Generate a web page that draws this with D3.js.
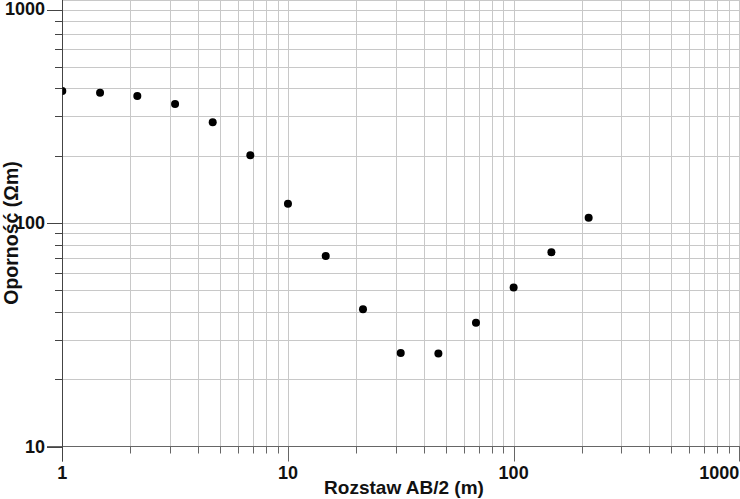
<!DOCTYPE html>
<html><head><meta charset="utf-8">
<script src="https://cdn.jsdelivr.net/npm/d3@7/dist/d3.min.js"></script>
<style>html,body{margin:0;padding:0;background:#fff;}svg{display:block;font-family:"Liberation Sans",Arial,sans-serif;font-weight:bold;}</style>
</head><body>
<script>
const spacing = [1, 1.47, 2.15, 3.16, 4.64, 6.81, 10, 14.7, 21.5, 31.6, 46.4, 68.1, 100, 147, 215];
const resistivity = [390, 383, 370, 341, 282, 201, 122, 71.2, 41.1, 26.2, 26.1, 35.8, 51.5, 73.9, 105.6];
const xTickLabels = ["1", "10", "100", "1000"];
const yTickLabels = ["10", "100", "1000"];
const xTitle = "Rozstaw AB/2 (m)";
const yTitle = "Oporność (Ωm)";

(function () {
const W = 740, H = 499;
const pLeft = 62.3, pRight = 739.3, pBottom = 446.5;
const svg = d3.select("body").append("svg").attr("width", W).attr("height", H);

const x = d3.scaleLog().domain([1, 1000]).range([pLeft, pRight]);
const y = d3.scaleLog().domain([10, 1000]).range([pBottom, -0.5]);

const xt = x.ticks();
const yt = y.ticks();
const isMajor = v => Math.abs(Math.log10(v) - Math.round(Math.log10(v))) < 1e-9;

const grid = svg.append("g").attr("stroke", "#c8c8c8").attr("stroke-width", 1);
grid.selectAll(".vx").data(xt.filter(v => v > 1)).join("line")
  .attr("x1", d => Math.round(x(d)) + 0.5).attr("x2", d => Math.round(x(d)) + 0.5)
  .attr("y1", 0).attr("y2", pBottom);
grid.selectAll(".hy").data(yt.filter(v => v > 10 && v < 1000)).join("line")
  .attr("y1", d => Math.round(y(d)) + 0.5).attr("y2", d => Math.round(y(d)) + 0.5)
  .attr("x1", pLeft).attr("x2", W);
grid.append("line").attr("x1", pLeft).attr("x2", W).attr("y1", 0.5).attr("y2", 0.5);

// axes
const ax = svg.append("g").attr("stroke", "#666").attr("stroke-width", 1);
ax.append("line").attr("x1", 47).attr("x2", W).attr("y1", Math.round(pBottom) - 0.5).attr("y2", Math.round(pBottom) - 0.5);
ax.selectAll(".tx").data(xt).join("line")
  .attr("x1", d => Math.round(x(d)) + 0.5).attr("x2", d => Math.round(x(d)) + 0.5)
  .attr("y1", pBottom).attr("y2", d => isMajor(d) ? pBottom + 15 : pBottom + 7);
const ay = svg.append("g").attr("stroke", "#444").attr("stroke-width", 1);
ay.append("line").attr("x1", 62.5).attr("x2", 62.5).attr("y1", 0).attr("y2", pBottom + 15);
ay.selectAll(".ty").data(yt).join("line")
  .attr("y1", d => Math.round(Math.max(y(d), 10)) + 0.5).attr("y2", d => Math.round(Math.max(y(d), 10)) + 0.5)
  .attr("x1", d => isMajor(d) ? 47 : 55).attr("x2", 62);

// tick labels
svg.append("g").selectAll("text").data(xTickLabels).join("text")
  .attr("x", d => +d === 1000 ? pRight : x(+d))
  .attr("y", 479)
  .attr("text-anchor", d => +d === 1000 ? "end" : "middle")
  .attr("font-size", 18).attr("fill", "#111").text(d => d);
svg.append("g").selectAll("text").data(yTickLabels).join("text")
  .attr("x", 45)
  .attr("y", d => Math.max(y(+d), 9))
  .attr("dy", "0.35em")
  .attr("text-anchor", "end")
  .attr("font-size", 18).attr("fill", "#111").text(d => d);

// titles
svg.append("text").attr("x", 404).attr("y", 494).attr("text-anchor", "middle")
  .attr("font-size", 19).attr("fill", "#111").text(xTitle);
svg.append("text").attr("transform", "translate(18,233) rotate(-90)").attr("text-anchor", "middle")
  .attr("font-size", 19.5).attr("fill", "#111").text(yTitle);

// points
svg.append("clipPath").attr("id", "plot").append("rect")
  .attr("x", 62.5).attr("y", 0).attr("width", W - 62.5).attr("height", pBottom);
svg.append("g").attr("clip-path", "url(#plot)")
  .selectAll("circle").data(spacing).join("circle")
  .attr("cx", d => x(d)).attr("cy", (d, i) => y(resistivity[i]))
  .attr("r", 4).attr("fill", "#000");
})();
</script>
</body></html>
